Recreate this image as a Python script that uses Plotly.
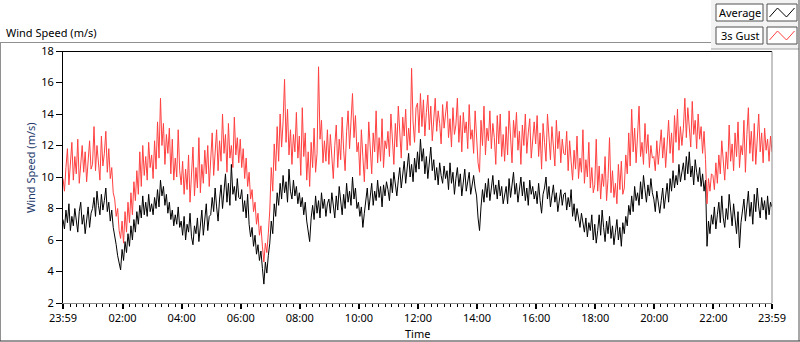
import numpy as np
import plotly.graph_objects as go

# ---------------- data (3-minute samples, 23:59 -> 23:59), one row per hour ----------------
average = [
    7.3, 6.7, 7.9, 7.1, 8.3, 6.6, 7.5, 6.9, 8.0, 7.2, 6.5, 7.8, 8.4, 7.0, 7.6, 6.4, 7.3, 8.1, 6.8, 7.7,
    8.0, 8.7, 7.5, 9.1, 8.2, 7.6, 8.9, 7.9, 8.5, 9.3, 7.8, 8.4, 7.2, 7.9, 6.8, 6.3, 5.7, 5.0, 4.6, 4.1,
    5.4, 4.7, 5.9, 5.2, 6.4, 5.6, 6.9, 6.0, 7.3, 6.5, 7.8, 7.0, 8.2, 7.4, 8.8, 7.6, 8.4, 7.5, 8.9, 7.8,
    8.3, 7.6, 8.7, 8.0, 9.2, 8.1, 9.8, 8.8, 9.4, 8.2, 8.9, 7.7, 8.4, 7.3, 7.9, 6.9, 7.6, 7.0, 8.1, 6.8,
    7.2, 6.3, 7.5, 6.0, 7.0, 6.5, 7.7, 6.2, 5.7, 6.9, 6.4, 7.4, 5.9, 6.8, 7.9, 6.3, 7.1, 8.3, 6.6, 7.5,
    7.6, 8.7, 7.8, 9.3, 8.1, 7.2, 8.6, 9.5, 8.0, 9.0, 10.2, 8.4, 9.6, 8.2, 10.8, 8.9, 9.4, 8.5, 9.9, 8.7,
    8.6, 9.2, 7.8, 8.5, 7.4, 8.9, 7.0, 6.2, 6.8, 5.6, 6.3, 5.1, 5.7, 4.7, 5.3, 4.2, 3.2, 4.6, 3.9, 5.0,
    5.8, 7.2, 6.4, 8.3, 7.5, 9.0, 8.2, 9.6, 8.6, 10.1, 9.0, 9.7, 8.4, 10.5, 9.1, 8.6, 9.8, 8.8, 9.4, 8.3,
    9.0, 8.1, 8.7, 7.6, 8.4, 7.2, 6.6, 5.9, 7.4, 8.2, 7.3, 8.8, 7.7, 8.5, 7.4, 9.0, 8.0, 8.6, 7.5, 8.3,
    8.6, 7.7, 9.0, 8.1, 7.4, 8.8, 7.9, 9.4, 8.3, 7.6, 8.9, 8.0, 9.6, 8.4, 9.1, 8.2, 10.0, 8.6, 9.3, 8.0,
    8.4, 7.5, 8.1, 6.8, 7.7, 8.6, 9.3, 7.9, 8.8, 9.6, 8.2, 9.1, 8.5, 9.8, 8.7, 9.4, 8.1, 9.5, 8.8, 9.7,
    9.2, 8.5, 9.9, 9.0, 10.3, 9.4, 8.8, 9.8, 10.6, 9.3, 10.1, 11.0, 9.6, 10.4, 11.5, 10.0, 10.8, 9.7, 11.2, 10.3,
    11.6, 10.5, 12.4, 11.0, 11.8, 10.2, 11.3, 9.9, 10.8, 11.9, 10.4, 11.1, 9.8, 10.6, 9.5, 10.9, 10.1, 9.6, 10.7, 9.9,
    10.4, 9.2, 10.9, 9.6, 10.3, 8.9, 9.9, 10.6, 9.4, 10.2, 8.8, 9.7, 10.5, 9.1, 9.8, 10.3, 8.9, 9.6, 10.1, 9.3,
    8.8, 7.4, 6.6, 8.1, 9.2, 8.4, 9.6, 8.7, 9.9, 8.5, 9.3, 10.1, 8.9, 9.5, 8.6, 9.8, 8.8, 9.4, 8.3, 9.0,
    9.4, 8.3, 9.9, 8.7, 9.5, 10.3, 8.9, 9.6, 8.4, 9.2, 10.0, 8.8, 9.7, 8.5, 9.3, 8.2, 9.8, 8.9, 9.4, 8.6,
    9.1, 8.3, 9.6, 8.5, 7.7, 8.9, 9.3, 10.0, 8.6, 9.4, 8.1, 8.8, 9.5, 8.4, 9.0, 7.8, 8.7, 9.2, 8.2, 8.9,
    9.0, 7.9, 8.7, 8.1, 9.2, 7.5, 8.3, 7.2, 8.0, 7.4, 6.8, 7.7, 7.0, 6.5, 7.4, 6.2, 7.1, 6.6, 7.6, 6.0,
    7.0, 5.8, 6.6, 7.6, 6.3, 7.9, 6.8, 5.9, 7.2, 6.4, 7.5, 6.1, 6.9, 5.7, 6.5, 7.3, 6.0, 6.8, 5.6, 7.1,
    6.4, 7.5, 6.9, 8.2, 7.6, 8.8, 7.8, 9.4, 8.5, 9.0, 8.2, 9.7, 8.6, 10.1, 9.2, 8.4, 9.5, 8.8, 9.9, 9.0,
    8.6, 7.8, 9.1, 8.2, 7.7, 8.5, 9.3, 8.0, 8.8, 9.6, 8.4, 9.9, 9.1, 10.4, 9.3, 10.1, 9.5, 10.8, 9.7, 10.3,
    10.9, 9.8, 11.3, 10.2, 11.6, 10.0, 10.7, 9.5, 11.1, 10.3, 9.7, 10.6, 9.4, 10.2, 9.1, 9.8, 5.6, 7.2, 6.4, 7.6,
    7.0, 8.1, 6.7, 7.6, 8.4, 7.1, 8.8, 7.4, 6.8, 8.0, 7.3, 8.9, 7.6, 6.9, 8.3, 7.2, 6.4, 7.8, 5.5, 7.1,
    7.7, 8.6, 7.2, 8.2, 9.1, 7.5, 8.4, 7.0, 8.9, 7.8, 9.3, 8.1, 7.4, 8.7, 7.9, 8.5, 7.3, 8.8, 7.6, 8.4,
    8.1,
]

gust_3s = [
    9.9, 9.1, 10.6, 11.8, 9.5, 10.9, 12.2, 9.8, 11.3, 10.2, 12.4, 9.6, 11.0, 12.0, 10.3, 11.6, 9.7, 11.2, 12.3, 10.5,
    10.8, 13.2, 10.4, 12.0, 11.1, 9.8, 12.6, 10.7, 11.5, 12.9, 10.3, 11.8, 9.9, 10.6, 9.0, 8.6, 7.5, 8.0, 6.6, 6.1,
    7.2, 5.8, 7.8, 6.5, 8.4, 7.1, 9.0, 7.6, 9.7, 8.5, 10.4, 8.9, 11.6, 9.4, 12.0, 10.1, 11.3, 9.8, 12.2, 10.6,
    11.4, 9.9, 12.3, 10.5, 13.5, 11.2, 15.0, 12.0, 13.4, 10.8, 12.7, 11.5, 13.1, 10.2, 12.4, 9.8, 11.2, 10.0, 13.0, 10.4,
    9.5, 11.0, 8.9, 10.5, 9.2, 11.4, 8.4, 10.1, 11.9, 8.8, 10.6, 9.3, 12.5, 9.0, 10.8, 9.6, 11.7, 10.2, 12.0, 9.4,
    10.9, 12.8, 10.1, 11.7, 13.0, 10.4, 12.3, 11.0, 14.0, 11.5, 12.7, 10.3, 13.4, 11.2, 12.0, 10.6, 13.8, 11.4, 12.5, 10.9,
    12.4, 10.6, 11.8, 9.9, 11.2, 9.4, 10.3, 8.6, 9.2, 7.8, 8.4, 7.0, 7.7, 6.3, 6.9, 5.6, 4.6, 5.8, 5.2, 6.4,
    7.9, 10.6, 9.1, 12.1, 10.4, 13.2, 11.0, 14.0, 11.9, 13.5, 16.2, 12.2, 14.3, 11.4, 13.0, 10.8, 12.7, 11.6, 14.1, 11.2,
    12.6, 10.1, 14.4, 11.3, 12.8, 9.8, 11.6, 9.4, 12.2, 10.6, 13.1, 10.3, 11.5, 17.0, 12.4, 13.6, 10.9, 12.3, 11.0, 13.0,
    10.8, 12.7, 11.4, 9.9, 12.0, 13.3, 10.6, 12.4, 11.1, 13.8, 11.7, 10.4, 12.9, 14.2, 11.8, 13.2, 15.3, 12.5, 13.9, 11.6,
    12.2, 10.1, 13.0, 11.3, 9.7, 12.1, 10.5, 13.5, 11.4, 10.2, 12.8, 11.6, 14.2, 10.9, 12.5, 11.0, 13.7, 10.6, 12.3, 11.8,
    12.9, 11.3, 14.0, 12.1, 10.8, 13.4, 11.9, 14.5, 12.4, 11.2, 13.8, 12.6, 14.3, 11.7, 13.1, 12.0, 16.9, 13.5, 12.2, 14.4,
    14.7, 12.8, 15.3, 13.2, 14.9, 12.6, 14.1, 15.2, 13.0, 14.5, 12.3, 13.8, 15.0, 12.9, 14.2, 13.4, 12.1, 14.6, 13.1, 14.0,
    14.8, 12.5, 13.7, 11.9, 14.4, 12.7, 13.3, 15.0, 12.2, 13.9, 11.6, 14.1, 12.8, 13.5, 11.8, 14.6, 12.4, 13.0, 11.5, 14.2,
    12.6, 10.9, 10.3, 13.6, 12.0, 14.5, 11.4, 13.1, 12.3, 14.2, 11.8, 13.4, 12.5, 10.8, 13.9, 12.1, 14.0, 11.3, 12.7, 11.0,
    13.2, 11.4, 14.2, 12.2, 10.9, 13.6, 12.5, 14.1, 11.7, 12.9, 10.8, 13.3, 12.0, 14.0, 11.5, 12.8, 13.7, 11.2, 12.6, 13.5,
    12.1, 13.9, 11.3, 12.8, 10.5, 13.4, 12.2, 11.0, 14.0, 12.6, 11.1, 13.2, 12.0, 10.7, 13.6, 11.8, 12.9, 10.9, 12.4, 11.5,
    11.4, 12.9, 10.4, 12.3, 11.0, 9.8, 11.7, 10.5, 12.6, 9.9, 11.2, 10.3, 13.0, 9.6, 11.1, 10.0, 12.2, 9.3, 10.6, 9.0,
    9.5, 12.4, 9.1, 10.7, 8.6, 10.2, 9.4, 11.3, 8.5, 9.9, 12.5, 9.0, 10.4, 8.7, 9.6, 8.3, 10.8, 9.2, 11.0, 8.9,
    9.3, 11.4, 10.2, 12.8, 10.7, 14.3, 11.6, 13.1, 10.9, 12.6, 14.5, 11.3, 12.2, 10.8, 13.4, 11.5, 12.7, 10.6, 12.0, 11.2,
    11.3, 10.4, 12.3, 10.8, 11.8, 13.0, 11.2, 12.5, 10.6, 12.1, 13.6, 11.5, 12.8, 10.9, 13.9, 12.2, 14.3, 11.7, 13.2, 12.0,
    13.1, 15.0, 12.5, 14.4, 13.3, 11.9, 14.8, 12.7, 13.6, 11.8, 14.0, 12.4, 13.2, 11.5, 12.9, 11.1, 8.3, 9.9, 9.1, 10.2,
    10.1, 9.2, 10.9, 9.6, 11.4, 10.2, 12.3, 10.7, 9.8, 11.6, 10.5, 13.3, 11.0, 12.1, 10.4, 12.8, 11.3, 13.5, 10.6, 12.0,
    11.4, 13.6, 10.3, 12.7, 14.4, 11.5, 12.9, 11.0, 13.4, 10.8, 12.2, 14.0, 11.6, 12.8, 10.9, 13.1, 11.7, 12.4, 11.0, 12.6,
    11.6,
]

tick_minutes = [0, 121, 241, 361, 481, 601, 721, 841, 961, 1081, 1201, 1321, 1440]
tick_labels = ["23:59", "02:00", "04:00", "06:00", "08:00", "10:00", "12:00",
               "14:00", "16:00", "18:00", "20:00", "22:00", "23:59"]

STEP_MIN = 3
minutes = np.arange(len(average)) * STEP_MIN  # sample time, minutes after 23:59
minutes_g = np.arange(len(gust_3s)) * STEP_MIN

# ---------------- geometry helpers (pixels -> paper) ----------------
W, H = 800, 342
L, R, T, B = 63, 28, 51, 39
PW, PH = W - L - R, H - T - B


def px(x):
    return (x - L) / PW


def py(y):
    return (H - B - y) / PH


FONT = "Noto Sans"
FS = 11

fig = go.Figure()
fig.add_trace(go.Scatter(x=minutes, y=average, mode="lines", name="Average",
                         line=dict(color="#000000", width=1), showlegend=False))
fig.add_trace(go.Scatter(x=minutes_g, y=gust_3s, mode="lines", name="3s Gust",
                         line=dict(color="#ff4040", width=1), showlegend=False))

shapes = []


def line(x0, y0, x1, y1, color, width=1):
    shapes.append(dict(type="line", xref="paper", yref="paper",
                       x0=px(x0), y0=py(y0), x1=px(x1), y1=py(y1),
                       line=dict(color=color, width=width)))


def rect(x0, y0, x1, y1, color, fill, width=1):
    shapes.append(dict(type="rect", xref="paper", yref="paper",
                       x0=px(x0), y0=py(y0), x1=px(x1), y1=py(y1),
                       line=dict(color=color, width=width), fillcolor=fill, layer="below"))


# legend panel background
rect(711, -2, 799.5, 49, "rgba(0,0,0,0)", "#f3f3f3", 0)
line(711, 49, 799, 49, "#a0a0a0")
# outer frame
line(0, 42.5, 711, 42.5, "#909090")
line(0.5, 42.5, 0.5, 341, "#909090")
line(0, 341, 800, 341, "#303030")
line(799, 0, 799, 341, "#505050")
# plot area frame (top black, right gray)
line(63, 51.5, 772, 51.5, "#000000")
line(772, 51.5, 772, 303, "#8a8a8a")

# legend boxes
for i, (label, col) in enumerate([("Average", "#000000"), ("3s Gust", "#ff4040")]):
    y0 = 4 + i * 23
    rect(716, y0, 763, y0 + 17, "#505050", "#ffffff")
    rect(767, y0, 797, y0 + 17, "#505050", "#ffffff")
    pts = [(769.5, y0 + 13), (777.5, y0 + 4), (786.5, y0 + 13), (794.5, y0 + 4)]
    path = "M " + " L ".join(f"{px(a)},{py(b)}" for a, b in pts)
    shapes.append(dict(type="path", xref="paper", yref="paper", path=path,
                       line=dict(color=col, width=1)))

annotations = [
    dict(text="Wind Speed (m/s)", x=px(4), y=py(32), xref="paper", yref="paper",
         xanchor="left", yanchor="middle", showarrow=False,
         font=dict(family=FONT, size=FS, color="#000000")),
    dict(text="Wind Speed (m/s)", x=px(30), y=py(168), xref="paper", yref="paper",
         xanchor="center", yanchor="middle", showarrow=False, textangle=-90,
         font=dict(family=FONT, size=FS, color="#23386a")),
    dict(text="Time", x=px(417), y=py(333), xref="paper", yref="paper",
         xanchor="center", yanchor="middle", showarrow=False,
         font=dict(family=FONT, size=FS, color="#000000")),
    dict(text="Average", x=px(739.5), y=py(12.5), xref="paper", yref="paper",
         xanchor="center", yanchor="middle", showarrow=False,
         font=dict(family=FONT, size=FS, color="#000000")),
    dict(text="3s Gust", x=px(739.5), y=py(35.5), xref="paper", yref="paper",
         xanchor="center", yanchor="middle", showarrow=False,
         font=dict(family=FONT, size=FS, color="#000000")),
]

fig.update_layout(
    width=W, height=H,
    margin=dict(l=L, r=R, t=T, b=B, pad=0),
    paper_bgcolor="#ffffff", plot_bgcolor="#ffffff",
    font=dict(family=FONT, size=FS, color="#000000"),
    shapes=shapes, annotations=annotations, showlegend=False,
    xaxis=dict(range=[0, 1440], tickmode="array", tickvals=tick_minutes, ticktext=tick_labels,
               ticks="outside", ticklen=5, tickwidth=2, tickcolor="#000000",
               showline=True, linecolor="#8a8a8a", linewidth=1,
               showgrid=False, zeroline=False, fixedrange=True,
               tickfont=dict(family=FONT, size=FS, color="#000000"),
               minor=dict(tickmode="linear", tick0=1, dtick=120 / 9, ticks="outside",
                          ticklen=3, tickwidth=1, tickcolor="#000000", showgrid=False)),
    yaxis=dict(range=[2, 18], tickmode="linear", tick0=2, dtick=2,
               ticks="outside", ticklen=6, tickwidth=1, tickcolor="#000000",
               showline=True, linecolor="#000000", linewidth=1,
               showgrid=False, zeroline=False, fixedrange=True,
               tickfont=dict(family=FONT, size=FS, color="#000000")),
)

fig.write_html("out.html", config={"displayModeBar": False},
               post_script="document.body.style.margin='0';document.body.style.padding='0';")
